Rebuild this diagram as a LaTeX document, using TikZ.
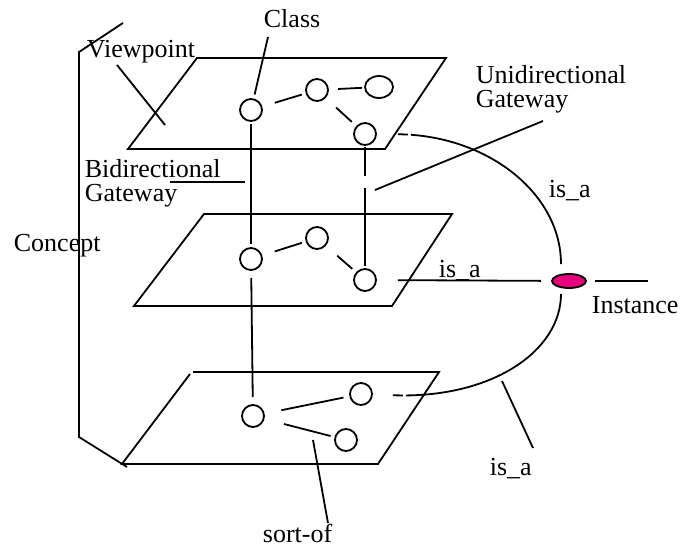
\documentclass[tikz,border=0pt]{standalone}
\usepackage{fontspec}
\setmainfont{Liberation Serif}
\usepackage{tikz}
\usetikzlibrary{shapes.geometric}
\definecolor{instfill}{RGB}{230,0,126}

\begin{document}
\begin{tikzpicture}[x=1pt,y=-1pt,line width=1.8pt,every node/.style={font=\fontsize{26pt}{24pt}\selectfont},cls/.style={draw,circle,minimum size=22pt,inner sep=0pt},lbl/.style={anchor=base west,inner sep=0pt,align=left},link/.style={shorten <=13pt,shorten >=4pt},gate/.style={dash pattern=on 10pt off 3pt on 900pt}]
\useasboundingbox (0,0) rectangle (694,548);
\draw (128,149)--(385,149)--(446,58)--(197,58)--cycle;
\draw (134,306)--(392,306)--(452,214)--(204,214)--cycle;
\draw (190,374)--(122,464)--(378,464)--(439,372)--(193,372);
\node[cls] (c1) at (251,110) {};
\node[cls] (c2) at (317,90) {};
\node[draw,ellipse,minimum width=28pt,minimum height=22pt,inner sep=0pt] (c3) at (379,87) {};
\node[cls] (c4) at (365,134) {};
\node[cls] (m1) at (251,259) {};
\node[cls] (m2) at (317,238) {};
\node[cls] (m3) at (365,280) {};
\node[cls] (b1) at (253,416) {};
\node[cls] (b2) at (361,394) {};
\node[cls] (b3) at (346,440) {};
\node[draw,ellipse,fill=instfill,minimum width=34pt,minimum height=14pt,inner sep=0pt] (inst) at (569,281) {};
\node[lbl] (class) at (263,28) {Class};
\node[lbl] (viewpoint) at (86,58) {Viewpoint};
\node[lbl] (bidir) at (84,202) {Bidirectional\\Gateway};
\node[lbl] (concept) at (13,252) {Concept};
\node[lbl] (unidir) at (475,108) {Unidirectional\\Gateway};
\node[lbl] (isatop) at (548,198) {is\_a};
\node[lbl] (isamid) at (438,278) {is\_a};
\node[lbl] (instance) at (591,313) {Instance};
\node[lbl] (isabot) at (489,475) {is\_a};
\node[lbl] (sortof) at (262,542) {sort-of};
\coordinate (classtip) at (268,37);
\coordinate (vpA) at (117,65);
\coordinate (vpB) at (165,125);
\coordinate (bidA) at (170,182);
\coordinate (bidB) at (245,182);
\coordinate (uniA) at (375,190);
\coordinate (uniB) at (543,121);
\coordinate (sortA) at (313,440);
\coordinate (sortB) at (328,523);
\coordinate (isaA) at (502,381);
\coordinate (isaB) at (533,448);
\coordinate (instend) at (648,281);
\draw[link] (c1)--(c2);
\draw[shorten <=9pt,shorten >=2pt] (c2)--(c3);
\draw[shorten <=14pt,shorten >=6pt] (c2)--(c4);
\draw[link] (m1)--(m2);
\draw[shorten <=15pt,shorten >=5pt] (m2)--(m3);
\draw[shorten <=17pt,shorten >=6pt] (b1)--(b2);
\draw[shorten <=20pt,shorten >=4pt] (b1)--(b3);
\draw[shorten <=2pt,shorten >=3pt] (c1)--(m1);
\draw[shorten <=7pt,shorten >=7pt] (m1)--(b1);
\draw[dash pattern=on 29pt off 12pt on 200pt,shorten <=1pt,shorten >=2pt] (c4)--(m3);
\draw[gate,shorten <=21pt,shorten >=9pt] (c4) .. controls (487,135) and (561,193) .. ([xshift=-8pt]inst.north);
\draw[gate,shorten <=20pt,shorten >=5pt] (b2) .. controls (490,399) and (561,352) .. ([xshift=-8pt]inst.south);
\draw[shorten <=21pt,shorten >=10pt] (m3)--(inst);
\draw[shorten <=8pt] (inst)--(instend);
\draw[shorten >=4pt] (classtip)--(c1);
\draw (vpA)--(vpB);
\draw (bidA)--(bidB);
\draw (uniA)--(uniB);
\draw (sortA)--(sortB);
\draw (isaA)--(isaB);
\draw (123,23)--(79,52)--(79,437)--(127,467);
\end{tikzpicture}
\end{document}
